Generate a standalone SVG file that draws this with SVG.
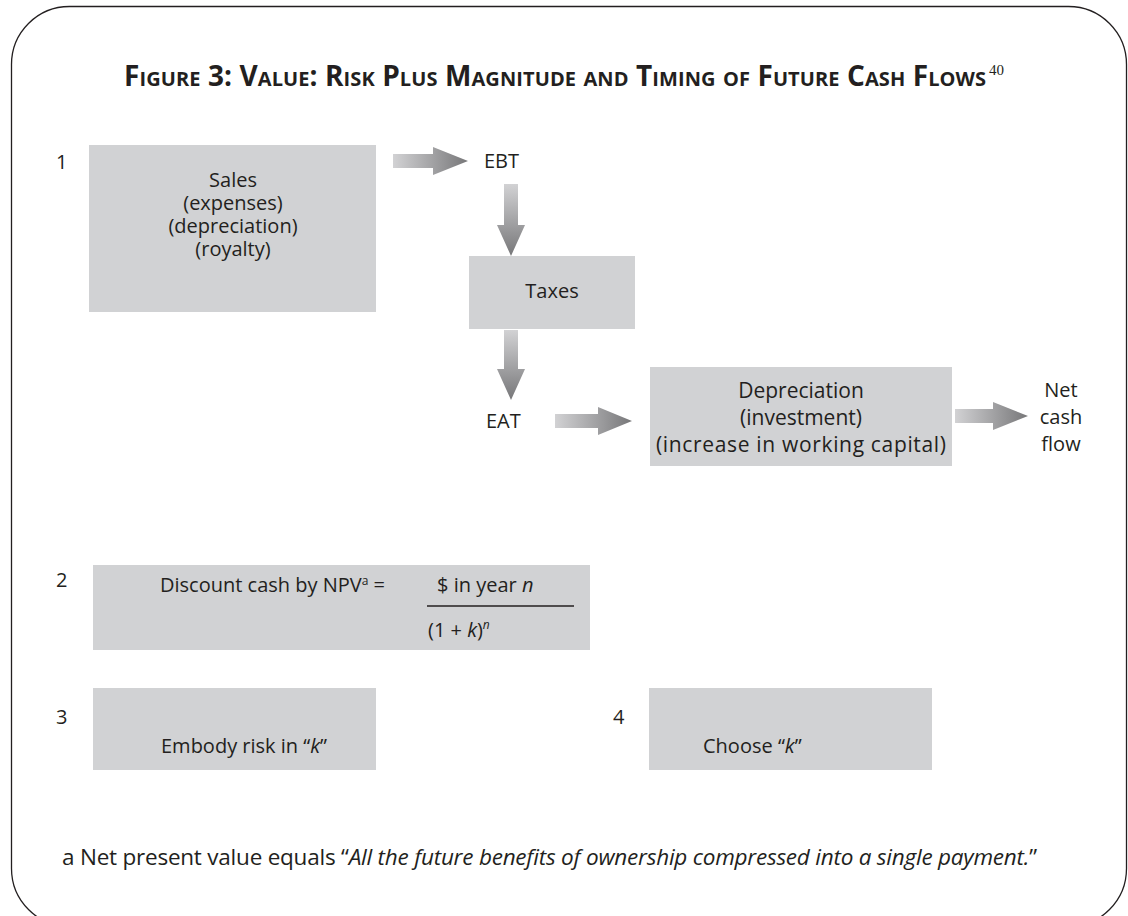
<svg xmlns="http://www.w3.org/2000/svg" width="1128" height="916" viewBox="0 0 1128 916">
<defs>
<linearGradient id="gh" x1="0" y1="0" x2="1" y2="0">
<stop offset="0" stop-color="#d2d2d4"/>
<stop offset="1" stop-color="#777779"/>
</linearGradient>
<linearGradient id="gv" x1="0" y1="0" x2="0" y2="1">
<stop offset="0" stop-color="#d2d2d4"/>
<stop offset="1" stop-color="#777779"/>
</linearGradient>
<style>
.box{fill:#d1d2d4;}
.t{font-family:"Open Sans","Noto Sans","Liberation Sans",sans-serif;font-size:20px;fill:#231f20;}
.m{font-size:21px;}
.f{font-size:22.5px;}
.c{text-anchor:middle;}
.i{font-style:italic;}
.title{font-family:"Open Sans","Liberation Sans",sans-serif;font-weight:bold;font-size:28px;font-variant:small-caps;fill:#231f20;}
.ah{fill:url(#gh);}
.av{fill:url(#gv);}
</style>
</defs>
<rect x="11.5" y="6.5" width="1115" height="920" rx="58" ry="58" fill="#ffffff" stroke="#231f20" stroke-width="1.3"/>
<g id="title">
<text class="title" x="124" y="86" textLength="862" lengthAdjust="spacing">Figure 3: Value: Risk Plus Magnitude and Timing of Future Cash Flows</text>
<text x="989" y="75" font-family="Liberation Serif, serif" font-size="15" fill="#231f20">40</text>
</g>

<g id="labels">
<text class="t" x="56" y="169">1</text>
<text class="t" x="56" y="587">2</text>
<text class="t" x="56" y="724">3</text>
<text class="t" x="613" y="724">4</text>
</g>

<g id="node-sales">
<rect class="box" x="89" y="145" width="287" height="167"/>
<text class="t c" x="233" y="187">Sales</text>
<text class="t c" x="233" y="210">(expenses)</text>
<text class="t c" x="233" y="233">(depreciation)</text>
<text class="t c" x="233" y="256">(royalty)</text>
</g>
<g id="node-ebt"><text class="t" x="484" y="168">EBT</text></g>
<g id="node-taxes">
<rect class="box" x="469" y="256" width="166" height="73"/>
<text class="t c" x="552" y="298">Taxes</text>
</g>
<g id="node-eat"><text class="t" x="486" y="428">EAT</text></g>
<g id="node-dep">
<rect class="box" x="650" y="367" width="302" height="99"/>
<text class="t m c" x="801" y="398">Depreciation</text>
<text class="t m c" x="801" y="425">(investment)</text>
<text class="t m c" x="801" y="452" textLength="290" lengthAdjust="spacing">(increase in working capital)</text>
</g>
<g id="node-net">
<text class="t c" x="1061" y="397">Net</text>
<text class="t c" x="1061" y="424">cash</text>
<text class="t c" x="1061" y="451">flow</text>
</g>
<g id="node-npv">
<rect class="box" x="93" y="565" width="497" height="85"/>
<text class="t" x="160" y="592">Discount cash by NPV<tspan font-size="12" dy="-7">a</tspan><tspan dy="7"> =</tspan></text>
<text class="t" x="437" y="592">$ in year <tspan class="i">n</tspan></text>
<line x1="427" y1="606" x2="574" y2="606" stroke="#231f20" stroke-width="1.3"/>
<text class="t" x="428" y="637">(1 + <tspan class="i">k</tspan>)<tspan class="i" font-size="12" dy="-8">n</tspan></text>
</g>
<g id="node-risk">
<rect class="box" x="93" y="688" width="283" height="82"/>
<text class="t" x="161" y="753">Embody risk in “<tspan class="i">k</tspan>”</text>
</g>
<g id="node-choose">
<rect class="box" x="649" y="688" width="283" height="82"/>
<text class="t" x="703" y="753">Choose “<tspan class="i">k</tspan>”</text>
</g>

<g id="connectors">
<polygon class="ah" points="393,154 433,154 433,147 468,161 433,175 433,168 393,168"/>
<polygon class="av" points="504,184 518,184 518,225 525,225 511,256 497,225 504,225"/>
<polygon class="av" points="504,330 518,330 518,369 525,369 511,400 497,369 504,369"/>
<polygon class="ah" points="555,414 598,414 598,407 632,421 598,435 598,428 555,428"/>
<polygon class="ah" points="955,409 993,409 993,402 1028,416 993,430 993,423 955,423"/>
</g>

<g id="footnote">
<text class="t f" x="62" y="865" textLength="975" lengthAdjust="spacing">a Net present value equals “<tspan class="i">All the future benefits of ownership compressed into a single payment.</tspan>”</text>
</g>
</svg>
